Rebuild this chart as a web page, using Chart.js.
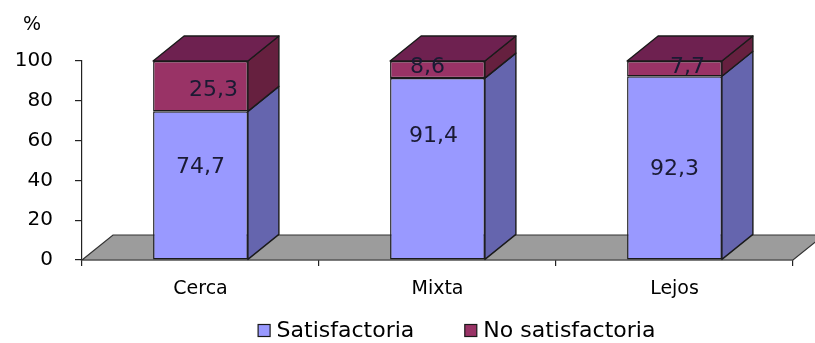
<!DOCTYPE html>
<html>
<head>
<meta charset="utf-8">
<script src="https://cdn.jsdelivr.net/npm/chart.js@4/dist/chart.umd.min.js"></script>
<style>
  html, body { margin: 0; padding: 0; background: #fff; }
  #wrap { width: 815px; height: 343px; }
</style>
</head>
<body>
<div id="wrap"><canvas id="c" width="815" height="343"></canvas></div>
<script>
// data
var categories = ['Cerca', 'Mixta', 'Lejos'];
var satisfactoria = [74.7, 91.4, 92.3];
var noSatisfactoria = [25.3, 8.6, 7.7];
var yTickValues = [0, 20, 40, 60, 80, 100];

// small hand nudges for the value labels (px), like the original placement
var labelNudge = [
  [[0, -18], [-4, -32], [0, 1]],
  [[13, 4], [-10, -2], [13, -1]]
];

var FONT = "'DejaVu Sans', Verdana, sans-serif";
var depth = { dx: 31, dy: -25 };
var edge = '#1a1a1a';
var faces = [
  { front: '#9999FF', side: '#6565AE', top: '#7B7BCC' },
  { front: '#993366', side: '#66203F', top: '#6E2150' }
];

function fmt(v) { return v.toFixed(1).replace('.', ','); }

var bars3d = {
  id: 'bars3d',
  beforeDatasetsDraw: function(chart) {
    var ctx = chart.ctx, a = chart.chartArea;
    ctx.save();
    ctx.beginPath();
    ctx.moveTo(a.left, a.bottom);
    ctx.lineTo(a.left + depth.dx, a.bottom + depth.dy);
    ctx.lineTo(a.right + depth.dx, a.bottom + depth.dy);
    ctx.lineTo(a.right, a.bottom);
    ctx.closePath();
    ctx.fillStyle = '#9C9C9C';
    ctx.fill();
    ctx.strokeStyle = '#333';
    ctx.lineWidth = 1.2;
    ctx.stroke();
    ctx.restore();
  },
  afterDatasetsDraw: function(chart) {
    var ctx = chart.ctx;
    var n = chart.data.datasets.length;
    ctx.save();
    ctx.lineWidth = 1.4;
    ctx.strokeStyle = edge;
    ctx.lineJoin = 'round';
    for (var i = 0; i < n; i++) {
      var meta = chart.getDatasetMeta(i);
      meta.data.forEach(function(bar) {
        var p = bar.getProps(['x', 'y', 'base', 'width'], true);
        var l = p.x - p.width / 2, r = p.x + p.width / 2;
        var t = Math.min(p.y, p.base), b = Math.max(p.y, p.base);
        // right side
        ctx.beginPath();
        ctx.moveTo(r, t);
        ctx.lineTo(r + depth.dx, t + depth.dy);
        ctx.lineTo(r + depth.dx, b + depth.dy);
        ctx.lineTo(r, b);
        ctx.closePath();
        ctx.fillStyle = faces[i].side;
        ctx.fill();
        ctx.stroke();
        if (i === n - 1) {
          ctx.beginPath();
          ctx.moveTo(l, t);
          ctx.lineTo(l + depth.dx, t + depth.dy);
          ctx.lineTo(r + depth.dx, t + depth.dy);
          ctx.lineTo(r, t);
          ctx.closePath();
          ctx.fillStyle = faces[i].top;
          ctx.fill();
          ctx.stroke();
        }
      });
    }
    // value labels
    ctx.font = '22px ' + FONT;
    ctx.fillStyle = '#1a1a33';
    ctx.textAlign = 'center';
    ctx.textBaseline = 'middle';
    for (var k = 0; k < n; k++) {
      var m = chart.getDatasetMeta(k);
      var vals = chart.data.datasets[k].data;
      m.data.forEach(function(bar, j) {
        var q = bar.getProps(['x', 'y', 'base'], true);
        var nd = labelNudge[k][j];
        ctx.fillText(fmt(vals[j]), q.x + nd[0], (q.y + q.base) / 2 + nd[1]);
      });
    }
    ctx.restore();
  },
  afterDraw: function(chart) {
    var ctx = chart.ctx, a = chart.chartArea;
    ctx.save();
    // unit label
    ctx.font = '19px ' + FONT;
    ctx.fillStyle = '#000';
    ctx.textAlign = 'left';
    ctx.textBaseline = 'middle';
    ctx.fillText('%', 23, 25);
    // legend
    ctx.font = '22px ' + FONT;
    var box = 12, gap = 7, itemGap = 50;
    var ds = chart.data.datasets;
    var total = 0;
    ds.forEach(function(d, i) {
      total += box + gap + ctx.measureText(d.label).width + (i < ds.length - 1 ? itemGap : 0);
    });
    var x = (a.left + a.right) / 2 + 19 - total / 2;
    var y = 330;
    ds.forEach(function(d, i) {
      ctx.fillStyle = faces[i].front;
      ctx.fillRect(x + 0.5, y - box / 2 + 0.5, box, box);
      ctx.strokeStyle = edge;
      ctx.lineWidth = 1.2;
      ctx.strokeRect(x + 0.5, y - box / 2 + 0.5, box, box);
      x += box + gap;
      ctx.fillStyle = '#000';
      ctx.fillText(d.label, x, y + 1);
      x += ctx.measureText(d.label).width + itemGap;
    });
    ctx.restore();
  }
};

new Chart(document.getElementById('c'), {
  type: 'bar',
  data: {
    labels: categories,
    datasets: [
      {
        label: 'Satisfactoria',
        data: satisfactoria,
        backgroundColor: faces[0].front,
        borderColor: edge,
        borderWidth: 1.4,
        borderSkipped: false
      },
      {
        label: 'No satisfactoria',
        data: noSatisfactoria,
        backgroundColor: faces[1].front,
        borderColor: edge,
        borderWidth: 1.4,
        borderSkipped: false
      }
    ]
  },
  options: {
    responsive: false,
    animation: false,
    layout: { padding: { left: 0, right: 22, top: 61, bottom: 0 } },
    plugins: {
      legend: { display: false },
      tooltip: { enabled: false }
    },
    datasets: {
      bar: { barPercentage: 1, categoryPercentage: 0.4 }
    },
    scales: {
      x: {
        stacked: true,
        afterFit: function(s) { s.height = 83; },
        grid: { display: true, drawOnChartArea: false, drawTicks: true, tickLength: 6, color: '#222', lineWidth: 1.2, offset: true },
        border: { display: true, color: '#222', width: 1.2 },
        ticks: { color: '#000', padding: 12, font: { family: FONT, size: 19 } }
      },
      y: {
        stacked: true,
        min: 0,
        max: 100,
        afterFit: function(s) { s.width = 82; },
        afterBuildTicks: function(s) { s.ticks = yTickValues.map(function(v) { return { value: v }; }); },
        grid: { display: true, drawOnChartArea: false, drawTicks: true, tickLength: 7, color: '#222', lineWidth: 1.2 },
        border: { display: true, color: '#222', width: 1.2 },
        ticks: { color: '#000', padding: 22, font: { family: FONT, size: 20 } }
      }
    }
  },
  plugins: [bars3d]
});
</script>
</body>
</html>
